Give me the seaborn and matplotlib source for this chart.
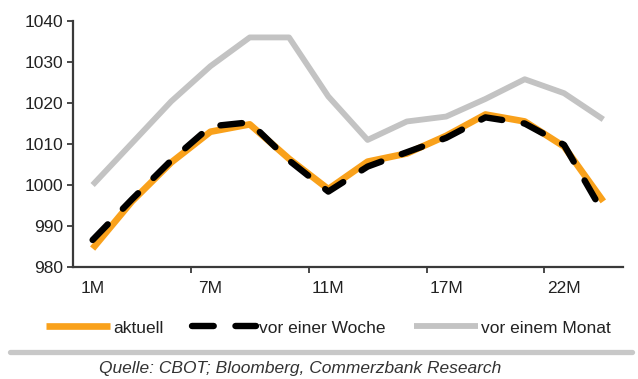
import matplotlib
matplotlib.use("Agg")
import matplotlib.pyplot as plt
from matplotlib.lines import Line2D
import seaborn as sns
import pandas as pd
import numpy as np

# Contract months along the curve (every third one is labelled)
months = ["1M", "3M", "5M", "7M", "8M", "9M", "11M",
          "13M", "15M", "17M", "19M", "20M", "22M", "24M"]

aktuell = [984.5, 996.0, 1005.5, 1013.0, 1014.8, 1006.4, 999.0,
           1005.7, 1007.7, 1012.0, 1017.2, 1015.5, 1009.4, 996.0]
vor_einer_woche = [986.6, 996.5, 1006.0, 1014.3, 1015.3, 1006.0, 998.4,
                   1004.5, 1008.0, 1011.5, 1016.5, 1015.0, 1009.8, 993.2]
vor_einem_monat = [1000.0, 1010.2, 1020.4, 1029.0, 1036.0, 1036.0, 1021.6,
                   1011.0, 1015.5, 1016.7, 1021.0, 1025.8, 1022.4, 1016.0]

labels = ["aktuell", "vor einer Woche", "vor einem Monat"]

ORANGE = "#f9a11b"
GREY = "#c3c3c3"
DASH = (3.4, 3.4)

sns.set_theme(style="white")
plt.rcParams["font.family"] = ["Liberation Sans", "DejaVu Sans"]

fig = plt.figure(figsize=(6.38, 3.79), dpi=100)
ax = fig.add_axes([0.1144, 0.2955, 0.8620, 0.6490])

x = np.arange(len(months))
df = pd.DataFrame({"x": x, "aktuell": aktuell,
                   "woche": vor_einer_woche, "monat": vor_einem_monat})

sns.lineplot(data=df, x="x", y="monat", ax=ax, color=GREY,
             linewidth=4.2, solid_capstyle="butt", legend=False)
sns.lineplot(data=df, x="x", y="aktuell", ax=ax, color=ORANGE,
             linewidth=4.8, solid_capstyle="butt", legend=False)
sns.lineplot(data=df, x="x", y="woche", ax=ax, color="black",
             linewidth=4.6, legend=False)
wline = ax.get_lines()[-1]
wline.set_dashes(DASH)
wline.set_dash_capstyle("round")

ax.set_xlim(-0.5, len(months) - 0.5)
ax.set_ylim(980, 1040)
ax.set_yticks(np.arange(980, 1041, 10))
ax.set_xticks(x[::3])
ax.set_xticklabels(months[::3])
ax.set_xticks(np.arange(2.5, len(months) - 1, 3), minor=True)
ax.set_xlabel("")
ax.set_ylabel("")

for side in ["top", "right"]:
    ax.spines[side].set_visible(False)
for side in ["left", "bottom"]:
    ax.spines[side].set_color("#3a3a3a")
    ax.spines[side].set_linewidth(1.6)

ax.tick_params(axis="y", which="major", direction="out", length=4,
               width=1.3, color="#3a3a3a", labelsize=12.5, pad=3,
               left=True, labelcolor="#222222")
ax.tick_params(axis="x", which="major", length=0, labelsize=12.5, pad=10,
               labelcolor="#222222")
ax.tick_params(axis="x", which="minor", direction="out", length=4,
               width=1.3, color="#3a3a3a", bottom=True)

handles = [
    Line2D([], [], color=ORANGE, linewidth=4.8, solid_capstyle="butt"),
    Line2D([], [], color="black", linewidth=4.6, dashes=DASH,
           dash_capstyle="round"),
    Line2D([], [], color=GREY, linewidth=4.2, solid_capstyle="butt"),
]
fig.legend(handles, labels, loc="center", bbox_to_anchor=(0.515, 0.1346),
           ncol=3, frameon=False, fontsize=12.5, handlelength=3.7,
           handletextpad=0.2, columnspacing=1.6, labelcolor="#222222")

fig.add_artist(Line2D([0.015, 0.99], [0.071, 0.071], color="#c8c8c8",
                      linewidth=3.8, transform=fig.transFigure))
fig.text(0.47, 0.029, "Quelle: CBOT; Bloomberg, Commerzbank Research",
         ha="center", va="center", fontsize=12.5, style="italic",
         color="#333333")

fig.savefig("out.png", dpi=100)
